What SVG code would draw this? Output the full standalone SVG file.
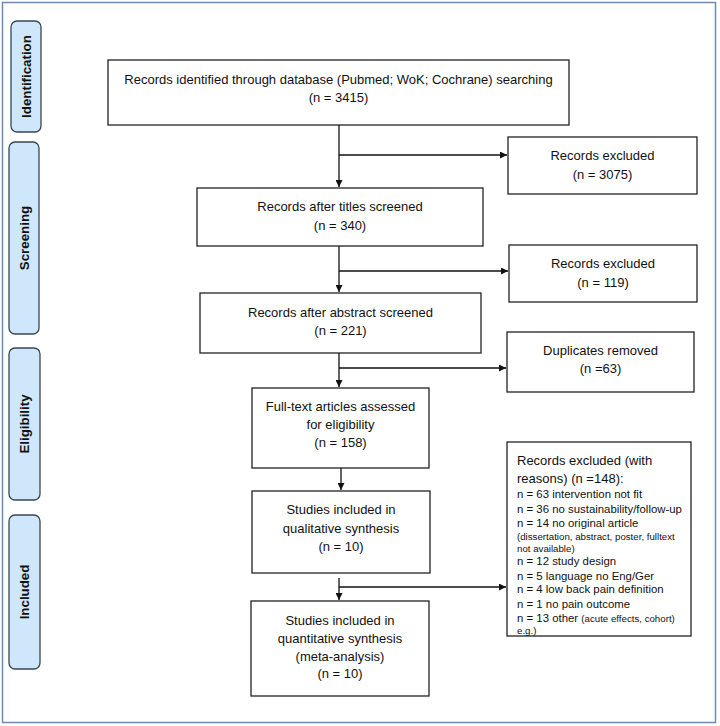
<svg xmlns="http://www.w3.org/2000/svg" width="720" height="726" viewBox="0 0 720 726">
<style>
.box{fill:#fff;stroke:#222;stroke-width:1.3}
.tab{fill:#cfe7fa;stroke:#3a4654;stroke-width:1.3}
.t{font-family:"Liberation Sans",Arial,sans-serif;font-size:13px;fill:#111;text-anchor:middle}
.tl{font-family:"Liberation Sans",Arial,sans-serif;font-size:13px;fill:#111}
.s{font-family:"Liberation Sans",Arial,sans-serif;font-size:11.4px;fill:#111}
.xs{font-size:9.7px}
.lab{font-family:"Liberation Sans",Arial,sans-serif;font-size:13.3px;font-weight:bold;fill:#111;text-anchor:middle}
.c{stroke:#111;stroke-width:1.3;fill:none}
</style>
<defs>
<marker id="ah" viewBox="0 0 10 10" refX="10" refY="5" markerWidth="7" markerHeight="7" markerUnits="userSpaceOnUse" orient="auto">
<path d="M0,0 L10,5 L0,10 z" fill="#111"/>
</marker>
</defs>
<rect x="2.5" y="2.5" width="713" height="720" fill="#fff" stroke="#6b8cae" stroke-width="1.5"/>

<g id="tab-identification"><rect class="tab" x="11" y="21" width="30" height="111" rx="6"/><text class="lab" transform="translate(30.5,76.5) rotate(-90)">Identification</text></g>
<g id="tab-screening"><rect class="tab" x="9" y="142" width="30" height="192" rx="6"/><text class="lab" transform="translate(28.5,238) rotate(-90)">Screening</text></g>
<g id="tab-eligibility"><rect class="tab" x="9" y="348" width="31" height="152" rx="6"/><text class="lab" transform="translate(29,424) rotate(-90)">Eligibility</text></g>
<g id="tab-included"><rect class="tab" x="9" y="515" width="31" height="154" rx="6"/><text class="lab" transform="translate(29,592) rotate(-90)">Included</text></g>

<g id="connectors">
<path class="c" d="M339,125 V187" marker-end="url(#ah)"/>
<path class="c" d="M339,155 H507" marker-end="url(#ah)"/>
<path class="c" d="M339,246 V292" marker-end="url(#ah)"/>
<path class="c" d="M339,271 H508" marker-end="url(#ah)"/>
<path class="c" d="M339,353 V387" marker-end="url(#ah)"/>
<path class="c" d="M339,368 H506" marker-end="url(#ah)"/>
<path class="c" d="M341,468 V490" marker-end="url(#ah)"/>
<path class="c" d="M339,578 V600" marker-end="url(#ah)"/>
<path class="c" d="M339,587 H506" marker-end="url(#ah)"/>
</g>

<g id="identified"><rect class="box" x="108" y="60" width="461" height="65"/>
<text class="t" x="338.5" y="84">Records identified through database (Pubmed; WoK; Cochrane) searching</text>
<text class="t" x="338.5" y="102">(n = 3415)</text></g>

<g id="excluded1"><rect class="box" x="508" y="137" width="189" height="57"/>
<text class="t" x="602.5" y="160">Records excluded</text>
<text class="t" x="602.5" y="179">(n = 3075)</text></g>

<g id="titles"><rect class="box" x="197" y="188" width="286" height="58"/>
<text class="t" x="340" y="211">Records after titles screened</text>
<text class="t" x="340" y="230">(n = 340)</text></g>

<g id="excluded2"><rect class="box" x="509" y="245" width="188" height="57"/>
<text class="t" x="603" y="268">Records excluded</text>
<text class="t" x="603" y="287">(n = 119)</text></g>

<g id="abstract"><rect class="box" x="200" y="293" width="281" height="60"/>
<text class="t" x="340.5" y="317">Records after abstract screened</text>
<text class="t" x="340.5" y="335">(n = 221)</text></g>

<g id="duplicates"><rect class="box" x="507" y="332" width="187" height="60"/>
<text class="t" x="600.5" y="355">Duplicates removed</text>
<text class="t" x="600.5" y="373">(n =63)</text></g>

<g id="fulltext"><rect class="box" x="252" y="388" width="177" height="80"/>
<text class="t" x="340.5" y="411">Full-text articles assessed</text>
<text class="t" x="340.5" y="429">for eligibility</text>
<text class="t" x="340.5" y="447">(n = 158)</text></g>

<g id="qualitative"><rect class="box" x="252" y="491" width="178" height="82"/>
<text class="t" x="341" y="514">Studies included in</text>
<text class="t" x="341" y="533">qualitative synthesis</text>
<text class="t" x="341" y="551">(n = 10)</text></g>

<g id="quantitative"><rect class="box" x="251" y="601" width="178" height="95"/>
<text class="t" x="340" y="625">Studies included in</text>
<text class="t" x="340" y="643">quantitative synthesis</text>
<text class="t" x="340" y="661">(meta-analysis)</text>
<text class="t" x="340" y="678">(n = 10)</text></g>

<g id="excluded-reasons"><rect class="box" x="507" y="442" width="184" height="194"/>
<text class="tl" x="517" y="465">Records excluded (with</text>
<text class="tl" x="517" y="483">reasons) (n =148):</text>
<text class="s" x="517" y="498">n = 63 intervention not fit</text>
<text class="s" x="517" y="513">n = 36 no sustainability/follow-up</text>
<text class="s" x="517" y="527">n = 14 no original article</text>
<text class="s xs" x="517" y="540">(dissertation, abstract, poster, fulltext</text>
<text class="s xs" x="517" y="552">not available)</text>
<text class="s" x="517" y="565">n = 12 study design</text>
<text class="s" x="517" y="580">n = 5 language no Eng/Ger</text>
<text class="s" x="517" y="593">n = 4 low back pain definition</text>
<text class="s" x="517" y="608">n = 1 no pain outcome</text>
<text class="s" x="517" y="622">n = 13 other <tspan class="xs">(acute effects, cohort)</tspan></text>
<text class="s xs" x="517" y="634">e.g.)</text></g>
</svg>
